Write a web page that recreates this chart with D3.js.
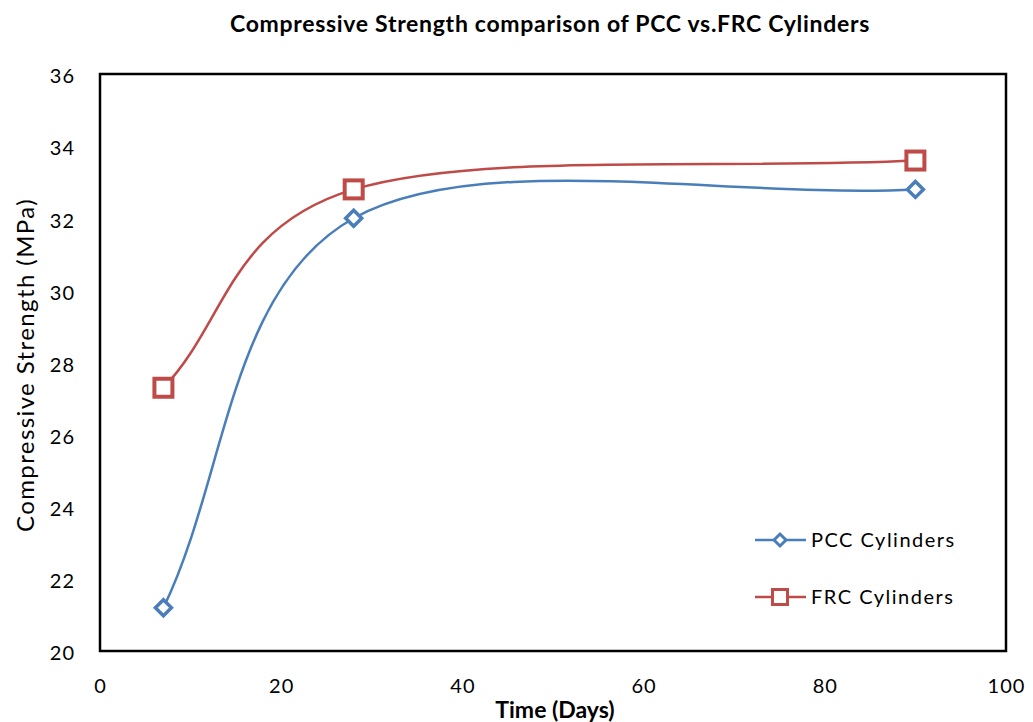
<!DOCTYPE html>
<html>
<head>
<meta charset="utf-8">
<script src="https://cdn.jsdelivr.net/npm/d3@7"></script>
<style>
  html, body { margin: 0; padding: 0; background: #fff; }
  svg { display: block; font-family: Lato, "Open Sans", sans-serif; }
</style>
</head>
<body>
<svg id="chart" width="1033" height="722"></svg>
<script>
// Curing age in days and compressive strength in MPa
const days = [7, 28, 90];
const pccStrength = [21.2, 32.0, 32.8];
const frcStrength = [27.3, 32.8, 33.6];
const seriesNames = ["PCC Cylinders", "FRC Cylinders"];
const xTicks = [0, 20, 40, 60, 80, 100];
const yTicks = [20, 22, 24, 26, 28, 30, 32, 34, 36];

const svg = d3.select("#chart");
const plot = { left: 100, top: 74, right: 1006, bottom: 651 };

const x = d3.scaleLinear().domain([0, 100]).range([plot.left, plot.right]);
const y = d3.scaleLinear().domain([20, 36]).range([plot.bottom, plot.top]);

// Spreadsheet-style smoothed line: cubic Bezier segments whose tangents come
// from the neighbouring points (1/6 rule), limited to half the segment length.
function curveSmoothSheet(context) {
  let pts = [];
  return {
    areaStart() {}, areaEnd() {},
    lineStart() { pts = []; },
    point(px, py) { pts.push([+px, +py]); },
    lineEnd() {
      const n = pts.length;
      if (!n) return;
      context.moveTo(pts[0][0], pts[0][1]);
      const cap = (v, lim) => {
        const len = Math.hypot(v[0], v[1]);
        return len > lim && len > 0 ? [v[0] * lim / len, v[1] * lim / len] : v;
      };
      for (let i = 0; i < n - 1; i++) {
        const p1 = pts[i], p2 = pts[i + 1];
        const half = Math.hypot(p2[0] - p1[0], p2[1] - p1[1]) / 2;
        let t1, t2;
        if (i === 0) t1 = [(p2[0] - p1[0]) / 3, (p2[1] - p1[1]) / 3];
        else { const p0 = pts[i - 1]; t1 = [(p2[0] - p0[0]) / 6, (p2[1] - p0[1]) / 6]; }
        if (i === n - 2) t2 = [(p2[0] - p1[0]) / 3, (p2[1] - p1[1]) / 3];
        else { const p3 = pts[i + 2]; t2 = [(p3[0] - p1[0]) / 6, (p3[1] - p1[1]) / 6]; }
        t1 = cap(t1, half); t2 = cap(t2, half);
        context.bezierCurveTo(p1[0] + t1[0], p1[1] + t1[1],
                              p2[0] - t2[0], p2[1] - t2[1], p2[0], p2[1]);
      }
    }
  };
}

// Title
svg.append("text")
  .attr("x", 550).attr("y", 32)
  .attr("text-anchor", "middle")
  .attr("font-size", 23).attr("font-weight", "bold")
  .attr("letter-spacing", 0.7)
  .text("Compressive Strength comparison of PCC vs.FRC Cylinders");

// Axes (labels only, frame drawn separately)
const xAxis = svg.append("g")
  .attr("transform", `translate(0,${plot.bottom})`)
  .call(d3.axisBottom(x).tickValues(xTicks).tickSize(0).tickPadding(28));
xAxis.select(".domain").remove();
xAxis.selectAll("text").attr("font-size", 20).attr("fill", "#000")
  .attr("letter-spacing", 1)
  .attr("font-family", "Lato, 'Open Sans', sans-serif");

const yAxis = svg.append("g")
  .attr("transform", `translate(${plot.left},0)`)
  .call(d3.axisLeft(y).tickValues(yTicks).tickSize(0).tickPadding(25));
yAxis.select(".domain").remove();
yAxis.selectAll("text").attr("font-size", 20).attr("fill", "#000")
  .attr("letter-spacing", 1).attr("dy", "0.44em")
  .attr("font-family", "Lato, 'Open Sans', sans-serif");

// Axis titles
svg.append("text")
  .attr("x", 555).attr("y", 718)
  .attr("text-anchor", "middle")
  .attr("font-size", 23).attr("font-weight", "bold")
  .text("Time (Days)");

svg.append("text")
  .attr("transform", `translate(34,${365}) rotate(-90)`)
  .attr("text-anchor", "middle")
  .attr("font-size", 24)
  .attr("letter-spacing", 1.4)
  .text("Compressive Strength (MPa)");

// Plot frame
svg.append("rect")
  .attr("x", plot.left).attr("y", plot.top)
  .attr("width", plot.right - plot.left).attr("height", plot.bottom - plot.top)
  .attr("fill", "none").attr("stroke", "#000").attr("stroke-width", 2.5);

const line = d3.line()
  .x(d => x(d[0])).y(d => y(d[1]))
  .curve(curveSmoothSheet);

const series = [
  { name: seriesNames[0], values: pccStrength, color: "#4A7EBB", marker: "diamond" },
  { name: seriesNames[1], values: frcStrength, color: "#BE4B48", marker: "square" }
];

// size: diamond half-diagonal or square side
function drawMarker(g, type, cx, cy, color, size, sw) {
  if (type === "diamond") {
    const r = size;
    g.append("path")
      .attr("d", `M${cx},${cy - r}L${cx + r},${cy}L${cx},${cy + r}L${cx - r},${cy}Z`)
      .attr("fill", "#fff").attr("stroke", color).attr("stroke-width", sw);
  } else {
    const s = size;
    g.append("rect")
      .attr("x", cx - s / 2).attr("y", cy - s / 2)
      .attr("width", s).attr("height", s)
      .attr("fill", "#fff").attr("stroke", color).attr("stroke-width", sw);
  }
}

series.forEach(s => {
  const pts = days.map((d, i) => [d, s.values[i]]);
  svg.append("path")
    .attr("d", line(pts))
    .attr("fill", "none").attr("stroke", s.color).attr("stroke-width", 2.5);
  const g = svg.append("g");
  pts.forEach(p => drawMarker(g, s.marker, x(p[0]), y(p[1]), s.color,
    s.marker === "diamond" ? 8 : 18, s.marker === "diamond" ? 3.5 : 4));
});

// Legend
const legendY = [540, 597];
series.forEach((s, i) => {
  const g = svg.append("g");
  g.append("line")
    .attr("x1", 755).attr("x2", 806)
    .attr("y1", legendY[i]).attr("y2", legendY[i])
    .attr("stroke", s.color).attr("stroke-width", 2.5);
  drawMarker(g, s.marker, 780, legendY[i], s.color,
    s.marker === "diamond" ? 6 : 15, 3);
  g.append("text")
    .attr("x", 811).attr("y", legendY[i] + 7)
    .attr("font-size", 20)
    .attr("letter-spacing", 1.5)
    .text(s.name);
});
</script>
</body>
</html>
